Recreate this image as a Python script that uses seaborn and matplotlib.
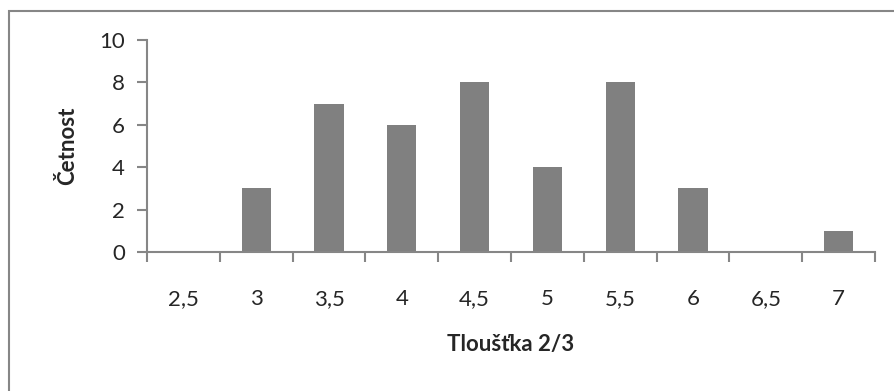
import matplotlib
matplotlib.use("Agg")
import matplotlib.pyplot as plt
import seaborn as sns
import pandas as pd
from matplotlib.patches import Rectangle

sns.set_style("white")
plt.rcParams["font.family"] = ["Lato", "DejaVu Sans"]

# data
categories = ["2,5", "3", "3,5", "4", "4,5", "5", "5,5", "6", "6,5", "7"]
counts = [0, 3, 7, 6, 8, 4, 8, 3, 0, 1]
df = pd.DataFrame({"Tloušťka": categories, "Četnost": counts})

fig = plt.figure(figsize=(8.94, 3.91), dpi=100)
ax = fig.add_axes([0.1644, 0.3555, 0.8143, 0.5422])

sns.barplot(data=df, x="Tloušťka", y="Četnost", color="#808080",
            saturation=1, width=0.4, linewidth=0, ax=ax)

ax.set_ylim(0, 10)
ax.set_xlim(-0.5, len(categories) - 0.5)
ax.set_yticks([0, 2, 4, 6, 8, 10])

# excel-like tick marks between categories
ax.set_xticks([i - 0.5 for i in range(len(categories) + 1)], minor=True)
ax.tick_params(axis="x", which="major", length=0, pad=27, labelsize=16)
ax.tick_params(axis="x", which="minor", length=7, width=1.5, color="#868686",
               direction="out", bottom=True)
ax.tick_params(axis="y", length=7, width=1.5, color="#868686",
               direction="out", left=True, pad=9, labelsize=16)

for s in ["top", "right"]:
    ax.spines[s].set_visible(False)
for s in ["left", "bottom"]:
    ax.spines[s].set_color("#868686")
    ax.spines[s].set_linewidth(1.5)

ax.set_xlabel("Tloušťka 2/3", fontsize=16, fontweight="bold", labelpad=18)
ax.set_ylabel("Četnost", fontsize=16, fontweight="bold", labelpad=15)

# outer chart border
fig.patches.append(Rectangle((9 / 894, -0.1), 1.0, 1.1 - 11 / 391,
                             transform=fig.transFigure, fill=False,
                             edgecolor="#868686", linewidth=1.5))

fig.savefig("out.png", dpi=100)
